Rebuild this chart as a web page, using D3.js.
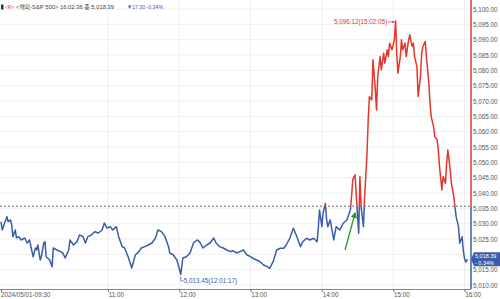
<!DOCTYPE html>
<html><head><meta charset="utf-8">
<script src="https://cdn.jsdelivr.net/npm/d3@7"></script>
<style>
html,body{margin:0;padding:0;background:#fff;}
svg{display:block;}
text{font-family:"Liberation Sans","Noto Sans CJK KR",sans-serif;}
</style></head>
<body>
<svg id="c" width="500" height="299"></svg>
<script>
// ---- data ----
const times = ["09:30","09:31","09:32","09:33","09:35","09:36","09:38","09:39","09:40","09:42","09:43","09:45","09:47","09:50","09:52","09:54","09:57","09:59","10:00","10:01","10:03","10:04","10:06","10:07","10:08","10:11","10:13","10:14","10:17","10:20","10:22","10:24","10:27","10:28","10:31","10:34","10:36","10:39","10:41","10:43","10:46","10:49","10:52","10:55","10:57","10:59","11:02","11:04","11:07","11:09","11:12","11:14","11:17","11:20","11:23","11:26","11:28","11:31","11:34","11:37","11:40","11:42","11:45","11:48","11:51","11:52","11:55","11:58","12:01:17","12:03","12:06","12:09","12:12","12:15","12:17","12:20","12:23","12:26","12:29","12:31","12:34","12:37","12:40","12:43","12:45","12:48","12:51","12:54","12:57","13:00","13:02","13:05","13:08","13:11","13:14","13:16","13:19","13:22","13:25","13:28","13:30","13:33","13:36","13:39","13:42","13:44","13:47","13:50","13:53","13:56","13:57","13:58","14:00","14:01","14:03","14:04","14:05","14:07","14:10","14:12","14:15","14:18","14:21","14:24","14:25","14:26","14:28","14:29","14:31","14:32","14:33","14:35","14:36","14:38","14:39","14:40","14:42","14:43","14:45","14:46","14:47","14:49","14:50","14:52","14:53","14:55","14:56","14:57","14:59","15:01","15:02:05","15:03","15:04","15:06","15:07","15:08","15:10","15:11","15:13","15:14","15:16","15:17","15:18","15:20","15:21","15:23","15:24","15:25","15:27","15:28","15:30","15:31","15:32","15:34","15:35","15:37","15:38","15:39","15:41","15:42","15:44","15:45","15:46","15:48","15:49","15:51","15:52","15:53","15:55","15:56","15:58","15:59","16:00","16:01","16:02:36"];
const prices = [5030.65,5027.95,5029.02,5030.23,5032.29,5030.65,5031.21,5029.58,5025.76,5027.95,5025.34,5025.76,5024.68,5025.34,5023.70,5024.68,5019.23,5022.07,5021.42,5023.05,5018.16,5019.23,5023.70,5024.13,5019.23,5018.16,5015.97,5022.07,5021.42,5020.87,5020.44,5018.81,5021.42,5024.68,5023.05,5024.13,5026.32,5025.76,5023.70,5025.76,5026.32,5027.39,5026.97,5027.95,5030.23,5028.60,5029.02,5027.95,5029.02,5025.76,5022.50,5022.07,5019.23,5015.55,5019.79,5020.87,5022.07,5022.50,5023.05,5023.70,5025.34,5027.95,5027.39,5025.76,5022.50,5020.44,5019.79,5018.16,5013.45,5018.81,5019.23,5020.44,5023.70,5024.68,5024.13,5022.07,5023.05,5023.70,5025.34,5023.70,5022.50,5022.07,5021.42,5020.87,5021.19,5020.44,5020.87,5021.42,5019.79,5019.23,5018.71,5018.16,5017.60,5016.53,5015.97,5015.45,5017.60,5021.42,5021.98,5021.98,5023.05,5025.24,5028.50,5025.76,5022.50,5024.13,5025.24,5024.68,5025.24,5024.13,5028.50,5034.47,5029.02,5033.40,5036.66,5031.21,5029.02,5031.21,5024.68,5029.02,5027.95,5030.13,5031.21,5034.47,5038.81,5044.26,5045.89,5038.81,5026.87,5045.34,5035.55,5029.02,5038.81,5052.97,5063.84,5071.44,5070.37,5083.42,5073.63,5067.10,5077.97,5084.49,5080.15,5085.60,5082.34,5086.68,5084.49,5088.87,5086.68,5089.94,5096.12,5085.60,5079.08,5084.49,5089.94,5086.68,5088.87,5084.49,5089.94,5091.58,5087.76,5088.87,5084.49,5081.23,5071.44,5077.97,5085.60,5087.76,5089.39,5084.49,5075.81,5069.29,5064.92,5061.65,5058.39,5057.31,5054.05,5048.60,5041.00,5045.34,5043.18,5049.71,5054.05,5047.52,5043.18,5038.81,5035.55,5032.29,5029.02,5023.61,5025.76,5021.42,5018.71,5017.50,5018.39];
const prevClose = 5035.69;
const yTicks = [5010,5015,5020,5025,5030,5035,5040,5045,5050,5055,5060,5065,5070,5075,5080,5085,5090,5095,5100];
const xTickTimes = ["09:30","11:00","12:00","13:00","14:00","15:00","16:00"];
const xTickLabels = ["2024/05/01-09:30","11:00","12:00","13:00","14:00","15:00","16:00"];
const maxPoint = {time:"15:02:05", value:5096.12, label:"5,096.12(15:02:05)"};
const minPoint = {time:"12:01:17", value:5013.45, label:"5,013.45(12:01:17)"};
const arrowFrom = {time:"14:19:30", value:5021.4};
const arrowTo = {time:"14:28:00", value:5033.5};
const headerFlag = "<R>";
const headerMain = "<해외-S&P 500> 16:02:36 종:5,018.39";
const headerChange = "▼17.30  -0.34%";
const lastTag = ["5,018.39","- 0.34%"];

// ---- helpers ----
const parseT = s => { const [h,m,sec=0] = s.split(":").map(Number); return new Date(2024,4,1,h,m,sec); };
const data = times.map((t,i)=>({t:parseT(t), v:prices[i]}));

const BLUE = "#3a5ca8", RED = "#e5352c", GRID = "#efefef", TXT = "#555";
const svg = d3.select("#c");
const plotR = 471, plotB = 289;

const x = d3.scaleTime().domain([parseT("09:30"), parseT("16:05:30")]).range([1, plotR]);
const y = d3.scaleLinear().domain([5010, 5100]).range([285, 9]);
const yb = y(prevClose);
const ly = y(prices[prices.length-1]);

// grid
svg.append("g").selectAll("line").data(yTicks).join("line")
  .attr("x1",0).attr("x2",plotR).attr("y1",d=>y(d)).attr("y2",d=>y(d))
  .attr("stroke",GRID).attr("stroke-width",1);
svg.append("g").selectAll("line").data(xTickTimes.slice(1)).join("line")
  .attr("x1",d=>x(parseT(d))).attr("x2",d=>x(parseT(d))).attr("y1",0).attr("y2",plotB)
  .attr("stroke",GRID).attr("stroke-width",1);

// baseline
svg.append("line").attr("x1",0).attr("x2",plotR).attr("y1",yb).attr("y2",yb)
  .attr("stroke","#444").attr("stroke-width",0.8).attr("stroke-dasharray","2,2");

// clip paths & markers
const defs = svg.append("defs");
defs.append("clipPath").attr("id","above").append("rect").attr("x",0).attr("y",0).attr("width",plotR).attr("height",yb);
defs.append("clipPath").attr("id","below").append("rect").attr("x",0).attr("y",yb).attr("width",plotR).attr("height",plotB-yb);
const mk = defs.append("marker").attr("id","ga").attr("viewBox","0 0 10 10").attr("refX",8).attr("refY",5)
  .attr("markerWidth",5).attr("markerHeight",5).attr("orient","auto");
mk.append("path").attr("d","M0,0L10,5L0,10z").attr("fill","#1f9a2a");
const mk2 = defs.append("marker").attr("id","ra").attr("viewBox","0 0 10 10").attr("refX",9).attr("refY",5)
  .attr("markerWidth",4).attr("markerHeight",4).attr("orient","auto");
mk2.append("path").attr("d","M0,1L10,5L0,9z").attr("fill",RED);

const line = d3.line().x(d=>x(d.t)).y(d=>y(d.v));
svg.append("path").datum(data).attr("d",line).attr("fill","none").attr("stroke",RED)
  .attr("stroke-width",1.5).attr("stroke-linejoin","round").attr("clip-path","url(#above)");
svg.append("path").datum(data).attr("d",line).attr("fill","none").attr("stroke",BLUE)
  .attr("stroke-width",1.5).attr("stroke-linejoin","round").attr("clip-path","url(#below)");

// right axis line (two colours)
svg.append("line").attr("x1",plotR).attr("x2",plotR).attr("y1",0).attr("y2",yb).attr("stroke",RED).attr("stroke-width",1.5);
svg.append("line").attr("x1",plotR).attr("x2",plotR).attr("y1",yb).attr("y2",plotB).attr("stroke",BLUE).attr("stroke-width",1.5);

// y axis labels (the label hidden behind the last-price tag is not drawn)
const yAxis = d3.axisRight(y).tickValues(yTicks.filter(v => Math.abs(y(v)-ly) > 8))
  .tickFormat(d3.format(",.2f")).tickSize(0).tickPadding(2);
const gy = svg.append("g").attr("transform",`translate(${plotR},0)`).call(yAxis);
gy.select(".domain").remove();
gy.selectAll("text").attr("fill",TXT).style("font-size","6.3px");

// x axis
const xAxis = d3.axisBottom(x).tickValues(xTickTimes.map(parseT))
  .tickFormat((d,i)=>xTickLabels[i]).tickSize(3).tickSizeOuter(0).tickPadding(1);
const gx = svg.append("g").attr("transform",`translate(0,${plotB})`).call(xAxis);
gx.select(".domain").attr("d",`M0,0.5H${plotR}`).attr("stroke","#888");
gx.selectAll(".tick line").attr("stroke","#777");
gx.selectAll("text").attr("fill",TXT).style("font-size","6.3px").attr("text-anchor","start").attr("dx","0.3");
gx.select(".tick text").attr("dx",-0.5);

// max annotation
const mx = x(parseT(maxPoint.time)), my = y(maxPoint.value);
svg.append("line").attr("x1",mx-8).attr("x2",mx-1).attr("y1",my+1).attr("y2",my+1)
  .attr("stroke",RED).attr("stroke-width",0.7).attr("marker-end","url(#ra)");
svg.append("text").attr("x",mx-8.5).attr("y",my+1).attr("dy","0.35em").attr("text-anchor","end")
  .attr("fill",RED).style("font-size","6.3px").text(maxPoint.label);

// min annotation
const nx = x(parseT(minPoint.time)), ny = y(minPoint.value);
svg.append("path").attr("d",`M${nx},${ny+2}V${ny+6.5}H${nx+3}`).attr("fill","none").attr("stroke",BLUE).attr("stroke-width",0.7);
svg.append("text").attr("x",nx+3).attr("y",ny+6.5).attr("dy","0.35em").attr("fill",BLUE)
  .style("font-size","6.3px").text(minPoint.label);

// green arrow
svg.append("line").attr("x1",x(parseT(arrowFrom.time))).attr("y1",y(arrowFrom.value))
  .attr("x2",x(parseT(arrowTo.time))).attr("y2",y(arrowTo.value))
  .attr("stroke","#1f9a2a").attr("stroke-width",1.3).attr("marker-end","url(#ga)");

// last price tag
svg.append("path").attr("d",`M${plotR},${ly}L${plotR+3},${ly-7}H500V${ly+7}H${plotR+3}Z`).attr("fill",BLUE);
svg.append("text").attr("x",plotR+4).attr("y",ly-3.4).attr("dy","0.35em").attr("fill","#fff").style("font-size","5.5px").text(lastTag[0]);
svg.append("text").attr("x",plotR+4).attr("y",ly+3.4).attr("dy","0.35em").attr("fill","#fff").style("font-size","5.5px").text(lastTag[1]);

// header
const hy = 7;
svg.append("rect").attr("x",1).attr("y",hy-2.5).attr("width",2.5).attr("height",5).attr("fill","#333");
const ht = (xx, s, c, len) => svg.append("text").attr("x",xx).attr("y",hy).attr("dy","0.35em").attr("fill",c)
  .style("font-size","6px").attr("textLength",len).attr("lengthAdjust","spacingAndGlyphs").text(s);
ht(5, headerFlag, RED, 9);
ht(16, headerMain, "#444", 98);
ht(127, headerChange, BLUE, 36);
</script>
</body></html>
